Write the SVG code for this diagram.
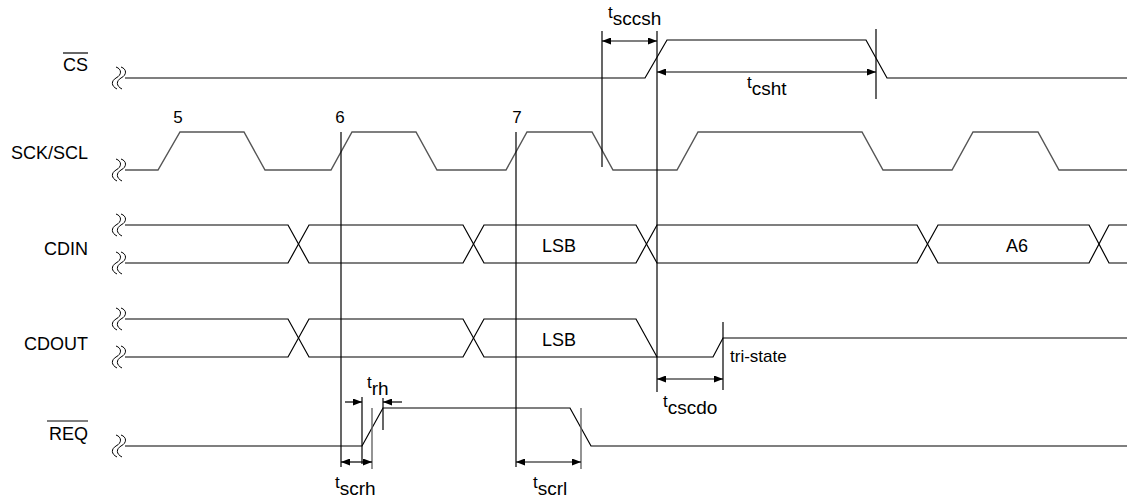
<svg xmlns="http://www.w3.org/2000/svg" width="1127" height="501" viewBox="0 0 1127 501">
<defs>
<style>
.lbl{font-family:"Liberation Sans",Arial,sans-serif;font-size:18px;fill:#000}
.num{font-family:"Liberation Sans",Arial,sans-serif;font-size:17px;fill:#000}
.t{font-family:"Liberation Sans",Arial,sans-serif;font-size:17px;fill:#000}
.sub{font-size:19px}
.sig{fill:none;stroke:#000;stroke-width:1.2}
.gsig{fill:none;stroke:#555;stroke-width:1.4}
.vl{fill:none;stroke:#000;stroke-width:1.2}
.gl{fill:none;stroke:#666;stroke-width:1.4}
.dim{fill:none;stroke:#000;stroke-width:1.2}
.ov{stroke:#000;stroke-width:1.2}
.brk{fill:none;stroke:#000;stroke-width:1}
</style>
<marker id="ah" viewBox="0 0 9 7" refX="9" refY="3.5" markerWidth="9" markerHeight="7" markerUnits="userSpaceOnUse" orient="auto-start-reverse">
<path d="M0,0 L9,3.5 L0,7 z" fill="#000"/>
</marker>
<g id="brkmark">
<path class="brk" d="M-4,-11 C2,-9 2,-3 -4,0 C-9,3 -9,8 -3,11"/>
<path class="brk" d="M1,-11 C7,-9 7,-3 1,0 C-4,3 -4,8 2,11"/>
</g>
</defs>
<rect width="1127" height="501" fill="#fff"/>

<g id="sig-cs">
<text class="lbl" x="88" y="71" text-anchor="end">CS</text>
<line class="ov" x1="63" y1="53" x2="88" y2="53"/>
<use href="#brkmark" x="120" y="78"/>
<path class="sig" d="M125,78 H645 L667,40 H866 L887,78 H1127"/>
</g>

<g id="sig-sck">
<text class="lbl" x="88" y="159" text-anchor="end">SCK/SCL</text>
<use href="#brkmark" x="120" y="170"/>
<path class="gsig" d="M125,170 H158 L180,132 H244 L265,170 H331 L352,132 H416 L437,170 H506 L527,132 H592 L613,170 H677 L698,132 H862 L883,170 H952 L973,132 H1038 L1059,170 H1127"/>
<text class="num" x="178" y="123" text-anchor="middle">5</text>
<text class="num" x="340" y="123" text-anchor="middle">6</text>
<text class="num" x="517" y="123" text-anchor="middle">7</text>
</g>

<g id="sig-cdin">
<text class="lbl" x="88" y="255" text-anchor="end">CDIN</text>
<use href="#brkmark" x="120" y="225"/>
<use href="#brkmark" x="120" y="263"/>
<path class="sig" d="M125,225 H288 L309,263 H463 L484,225 H636 L657,263 H917 L938,225 H1089 L1109,263 H1127"/>
<path class="sig" d="M125,263 H288 L309,225 H463 L484,263 H636 L657,225 H917 L938,263 H1089 L1109,225 H1127"/>
<text class="lbl" x="559" y="252" text-anchor="middle">LSB</text>
<text class="lbl" x="1017" y="252" text-anchor="middle">A6</text>
</g>

<g id="sig-cdout">
<text class="lbl" x="88" y="350" text-anchor="end">CDOUT</text>
<use href="#brkmark" x="120" y="319"/>
<use href="#brkmark" x="120" y="357"/>
<path class="sig" d="M125,319 H288 L309,357 H463 L484,319 H636 L657,357 H713 L723,338 H1127"/>
<path class="sig" d="M125,357 H288 L309,319 H463 L484,357 H657"/>
<text class="lbl" x="559" y="346" text-anchor="middle">LSB</text>
<text class="lbl" x="730" y="362" style="font-size:17px">tri-state</text>
</g>

<g id="sig-req">
<text class="lbl" x="88" y="440" text-anchor="end">REQ</text>
<line class="ov" x1="47" y1="421" x2="88" y2="421"/>
<use href="#brkmark" x="120" y="446"/>
<path class="sig" d="M125,446 H362 L383,408 H570 L591,446 H1127"/>
</g>

<g id="connectors">
<line class="vl" x1="341" y1="132" x2="341" y2="467"/>
<line class="vl" x1="516" y1="132" x2="516" y2="467"/>
<line class="vl" x1="602" y1="31" x2="602" y2="167"/>
<line class="vl" x1="657" y1="31" x2="657" y2="392"/>
<line class="vl" x1="876" y1="29" x2="876" y2="99"/>
<line class="vl" x1="723" y1="322" x2="723" y2="390"/>
<line class="vl" x1="362" y1="397" x2="362" y2="464"/>
<line class="gl" x1="372" y1="408" x2="372" y2="469"/>
<line class="vl" x1="383" y1="398" x2="383" y2="430"/>
<line class="gl" x1="581" y1="408" x2="581" y2="469"/>

<line class="dim" x1="602" y1="41" x2="657" y2="41" marker-start="url(#ah)" marker-end="url(#ah)"/>
<line class="dim" x1="657" y1="72" x2="876" y2="72" marker-start="url(#ah)" marker-end="url(#ah)"/>
<line class="dim" x1="657" y1="379" x2="723" y2="379" marker-start="url(#ah)" marker-end="url(#ah)"/>
<line class="dim" x1="341" y1="462" x2="372" y2="462" marker-start="url(#ah)" marker-end="url(#ah)"/>
<line class="dim" x1="516" y1="462" x2="581" y2="462" marker-start="url(#ah)" marker-end="url(#ah)"/>
<line class="dim" x1="345" y1="402" x2="362" y2="402" marker-end="url(#ah)"/>
<line class="dim" x1="402" y1="402" x2="383" y2="402" marker-end="url(#ah)"/>

<text class="t" x="608" y="18">t<tspan class="sub" dy="7">sccsh</tspan></text>
<text class="t" x="747" y="88">t<tspan class="sub" dy="7">csht</tspan></text>
<text class="t" x="663" y="407">t<tspan class="sub" dy="7">cscdo</tspan></text>
<text class="t" x="335" y="488">t<tspan class="sub" dy="7">scrh</tspan></text>
<text class="t" x="367" y="388">t<tspan class="sub" dy="7">rh</tspan></text>
<text class="t" x="533" y="488">t<tspan class="sub" dy="7">scrl</tspan></text>
</g>
</svg>
